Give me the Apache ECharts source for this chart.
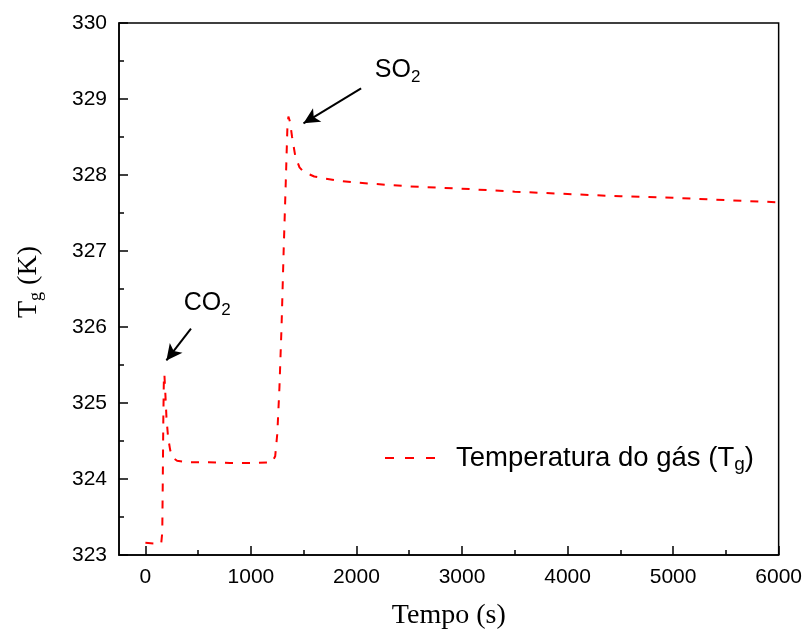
<!DOCTYPE html>
<html>
<head>
<meta charset="utf-8">
<script src="https://cdn.jsdelivr.net/npm/echarts@6/dist/echarts.min.js"></script>
<style>
html,body{margin:0;padding:0;background:#fff;}
#chart{width:805px;height:635px;}
</style>
</head>
<body>
<div id="chart"></div>
<script>
// ---- data ----
var timeS = [0, 100, 150, 160, 165, 170, 175, 180, 190, 200, 215, 235, 260, 300, 400, 600, 800, 1000, 1200,
  1230, 1250, 1270, 1290, 1310, 1330, 1345, 1355, 1370, 1390, 1420, 1460, 1500, 1600, 1800, 2000,
  2500, 3000, 3500, 4000, 4500, 5000, 5500, 6000];
var tempK = [323.16, 323.15, 323.15, 323.3, 324.0, 324.8, 325.3, 325.38, 325.1, 324.8, 324.55, 324.38, 324.28, 324.24, 324.22, 324.22, 324.21, 324.21, 324.22,
  324.3, 324.6, 325.2, 326.0, 327.0, 327.9, 328.6, 328.77, 328.7, 328.5, 328.25, 328.1, 328.04, 327.98, 327.93, 327.9,
  327.85, 327.82, 327.78, 327.75, 327.72, 327.70, 327.67, 327.64];
var xMajorTicks = [0, 1000, 2000, 3000, 4000, 5000, 6000];
var xMinorTicks = [500, 1500, 2500, 3500, 4500, 5500];
var seriesName = 'Temperatura do gás (Tg)';
var annotCO2 = {text: '{m|CO}{s|2}', at: [585, 326.32], arrowFrom: [432, 325.98], arrowTo: [199, 325.56]};
var annotSO2 = {text: '{m|SO}{s|2}', at: [2390, 329.38], arrowFrom: [2044, 329.14], arrowTo: [1498, 328.68]};

var pairs = timeS.map(function (t, i) { return [t, tempK[i]]; });

var SANS = '"Liberation Sans", Arial, sans-serif';
var SERIF = '"Liberation Serif", "Times New Roman", serif';
var annotRich = {
  m: {fontSize: 25, fontFamily: SANS, color: '#000', lineHeight: 32},
  s: {fontSize: 17, fontFamily: SANS, color: '#000', lineHeight: 14, verticalAlign: 'bottom'}
};

var chart = echarts.init(document.getElementById('chart'), null, {renderer: 'canvas'});
chart.setOption({
  animation: false,
  backgroundColor: '#fff',
  grid: {left: 119, right: 26, top: 23, bottom: 79, show: true, borderColor: '#000', borderWidth: 1.5, backgroundColor: 'transparent'},
  legend: {
    show: true,
    left: 380, top: 437,
    itemWidth: 50, itemHeight: 2, itemGap: 10,
    icon: 'path://M0,0H9V2H0Z M20,0H29V2H20Z M41,0H50V2H41Z',
    formatter: function () { return 'Temperatura do gás (T{sub|g})'; },
    textStyle: {
      fontSize: 27.5, fontFamily: SANS, color: '#000', lineHeight: 32, padding: [0, 0, 0, 16],
      rich: {sub: {fontSize: 19, fontFamily: SANS, color: '#000', lineHeight: 15, verticalAlign: 'bottom'}}
    },
    data: [seriesName]
  },
  xAxis: [{
    type: 'value', min: -250, max: 6000, position: 'bottom',
    axisLine: {show: true, onZero: false, lineStyle: {color: '#000', width: 1.5}},
    axisTick: {show: true, inside: true, length: 9, lineStyle: {color: '#000', width: 1.5}, customValues: xMajorTicks},
    axisLabel: {show: true, fontSize: 21, fontFamily: SANS, color: '#000', margin: 12, customValues: xMajorTicks,
      formatter: function (v) { return String(v); }},
    splitLine: {show: false},
    name: 'Tempo (s)', nameLocation: 'middle', nameGap: 47,
    nameTextStyle: {fontSize: 28, fontFamily: SERIF, color: '#000'}
  }, {
    type: 'value', min: -250, max: 6000, position: 'bottom', offset: 0,
    axisLine: {show: false},
    axisTick: {show: true, inside: true, length: 5, lineStyle: {color: '#000', width: 1.5}, customValues: xMinorTicks},
    axisLabel: {show: false},
    splitLine: {show: false}
  }],
  yAxis: {
    type: 'value', min: 323, max: 330, interval: 1,
    axisLine: {show: true, onZero: false, lineStyle: {color: '#000', width: 1.5}},
    axisTick: {show: true, inside: true, length: 9, lineStyle: {color: '#000', width: 1.5}},
    minorTick: {show: true, splitNumber: 2, length: 5, lineStyle: {color: '#000', width: 1.5}},
    axisLabel: {fontSize: 21, fontFamily: SANS, color: '#000', margin: 12},
    splitLine: {show: false},
    minorSplitLine: {show: false},
    name: '{t|T}{sub|g}{t| (K)}', nameLocation: 'middle', nameGap: 74, nameRotate: 90,
    nameTextStyle: {
      fontSize: 28, fontFamily: SERIF, color: '#000', padding: [0, 0, 0, 14],
      rich: {
        t: {fontSize: 28, fontFamily: SERIF, color: '#000', lineHeight: 32},
        sub: {fontSize: 18, fontFamily: SERIF, color: '#000', lineHeight: 15, verticalAlign: 'bottom'}
      }
    }
  },
  series: [{
    name: seriesName,
    type: 'line',
    xAxisIndex: 0,
    data: pairs,
    symbol: 'none',
    showSymbol: false,
    smooth: false,
    lineStyle: {color: '#ff0000', width: 2, type: [8, 9]},
    itemStyle: {color: '#ff0000'},
    markLine: {
      silent: true, animation: false,
      symbol: ['none', 'arrow'], symbolSize: [12, 16],
      lineStyle: {color: '#000', width: 2, type: 'solid'},
      label: {show: false},
      data: [
        [{coord: annotCO2.arrowFrom}, {coord: annotCO2.arrowTo}],
        [{coord: annotSO2.arrowFrom}, {coord: annotSO2.arrowTo}]
      ]
    },
    markPoint: {
      silent: true, animation: false,
      symbol: 'circle', symbolSize: 1,
      itemStyle: {color: 'rgba(0,0,0,0)'},
      label: {show: true, position: 'inside', formatter: function (p) { return p.name; }, rich: annotRich},
      data: [
        {name: annotCO2.text, coord: annotCO2.at},
        {name: annotSO2.text, coord: annotSO2.at}
      ]
    }
  }]
});
</script>
</body>
</html>
